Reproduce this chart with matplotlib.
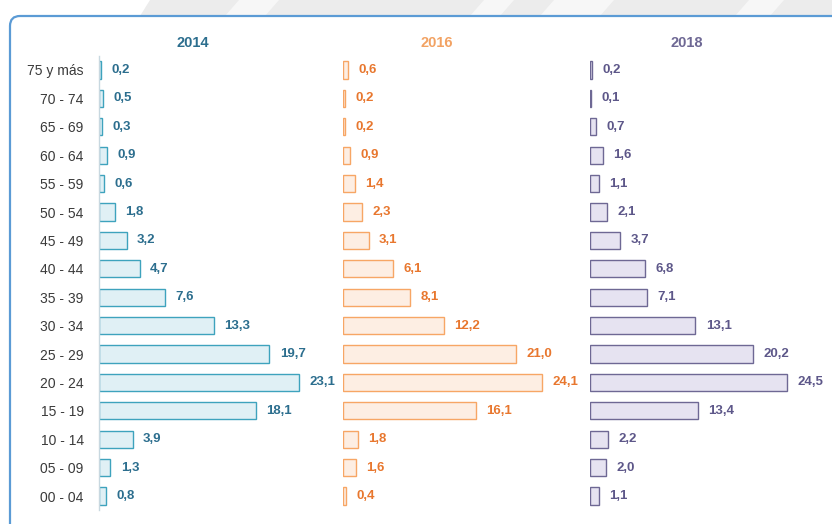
import matplotlib
matplotlib.use("Agg")
import matplotlib.pyplot as plt
from matplotlib.patches import FancyBboxPatch, Polygon

plt.rcParams['font.family'] = ['Liberation Sans Narrow', 'Liberation Sans', 'DejaVu Sans']

ages = ["75 y más", "70 - 74", "65 - 69", "60 - 64", "55 - 59", "50 - 54", "45 - 49",
        "40 - 44", "35 - 39", "30 - 34", "25 - 29", "20 - 24", "15 - 19", "10 - 14",
        "05 - 09", "00 - 04"]
years = ["2014", "2016", "2018"]
v2014 = [0.2, 0.5, 0.3, 0.9, 0.6, 1.8, 3.2, 4.7, 7.6, 13.3, 19.7, 23.1, 18.1, 3.9, 1.3, 0.8]
v2016 = [0.6, 0.2, 0.2, 0.9, 1.4, 2.3, 3.1, 6.1, 8.1, 12.2, 21.0, 24.1, 16.1, 1.8, 1.6, 0.4]
v2018 = [0.2, 0.1, 0.7, 1.6, 1.1, 2.1, 3.7, 6.8, 7.1, 13.1, 20.2, 24.5, 13.4, 2.2, 2.0, 1.1]
series = [v2014, v2016, v2018]

W, H = 832, 524
fig = plt.figure(figsize=(W / 100, H / 100), dpi=100)
fig.patch.set_facecolor('white')

def fx(px):
    return px / W

def fy(py):
    return 1 - py / H

# top background band with diagonal stripes
bg = fig.add_axes([0, 0, 1, 1], zorder=0)
bg.set_xlim(0, W)
bg.set_ylim(H, 0)
bg.axis('off')
bg.add_patch(Polygon([(150, 0), (W, 0), (W, 16), (140, 16)], closed=True,
                     facecolor='#ececec', edgecolor='none'))
for xs in [(225, 265), (470, 500), (540, 600), (735, 770)]:
    bg.add_patch(Polygon([(xs[0] + 14, 0), (xs[1] + 14, 0), (xs[1], 16), (xs[0], 16)],
                         closed=True, facecolor='#f7f7f7', edgecolor='none'))
bg.add_patch(FancyBboxPatch((10, 16), 900, 600, boxstyle="round,pad=0,rounding_size=10",
                            facecolor='white', edgecolor='#5b9bd5', linewidth=1.6))

edge_cols = ['#3ea3bd', '#f7a665', '#6e6894']
fill_cols = ['#e0f0f5', '#fdeee3', '#e6e3f1']
lab_cols = ['#2c6e8e', '#e8772e', '#5d5789']
title_cols = ['#2c6e8e', '#f2a263', '#6e6894']
x0s = [99, 343, 590]
scales = [8.65, 8.25, 8.05]
title_x = [193, 437, 687]
ax_w = 235

top_px, bot_px = 55.8, 510.2
for k in range(3):
    ax = fig.add_axes([fx(x0s[k]), fy(bot_px), fx(ax_w), (bot_px - top_px) / H], zorder=2)
    ax.set_facecolor('none')
    y = list(range(len(ages)))
    ax.barh(y, series[k], height=0.6, color=fill_cols[k], edgecolor=edge_cols[k], linewidth=1.0)
    ax.set_xlim(0, ax_w / scales[k])
    ax.set_ylim(len(ages) - 0.5, -0.5)
    for i, v in enumerate(series[k]):
        ax.annotate(f"{v:.1f}".replace('.', ','), (v, i), xytext=(7.5, 0),
                    textcoords='offset points', va='center', ha='left',
                    fontsize=9.5, fontweight='bold', color=lab_cols[k])
    for s in ax.spines.values():
        s.set_visible(False)
    ax.set_xticks([])
    if k == 0:
        ax.spines['left'].set_visible(True)
        ax.spines['left'].set_color('#c8d8e0')
        ax.spines['left'].set_linewidth(1.0)
        ax.set_yticks(y)
        ax.set_yticklabels(ages, fontsize=10, color='#3a3a3a')
        ax.tick_params(axis='y', length=0, pad=11)
    else:
        ax.set_yticks([])
    fig.text(fx(title_x[k]), fy(43), years[k], ha='center', va='center',
             fontsize=10.5, fontweight='bold', color=title_cols[k])

fig.savefig('out.png', dpi=100)
